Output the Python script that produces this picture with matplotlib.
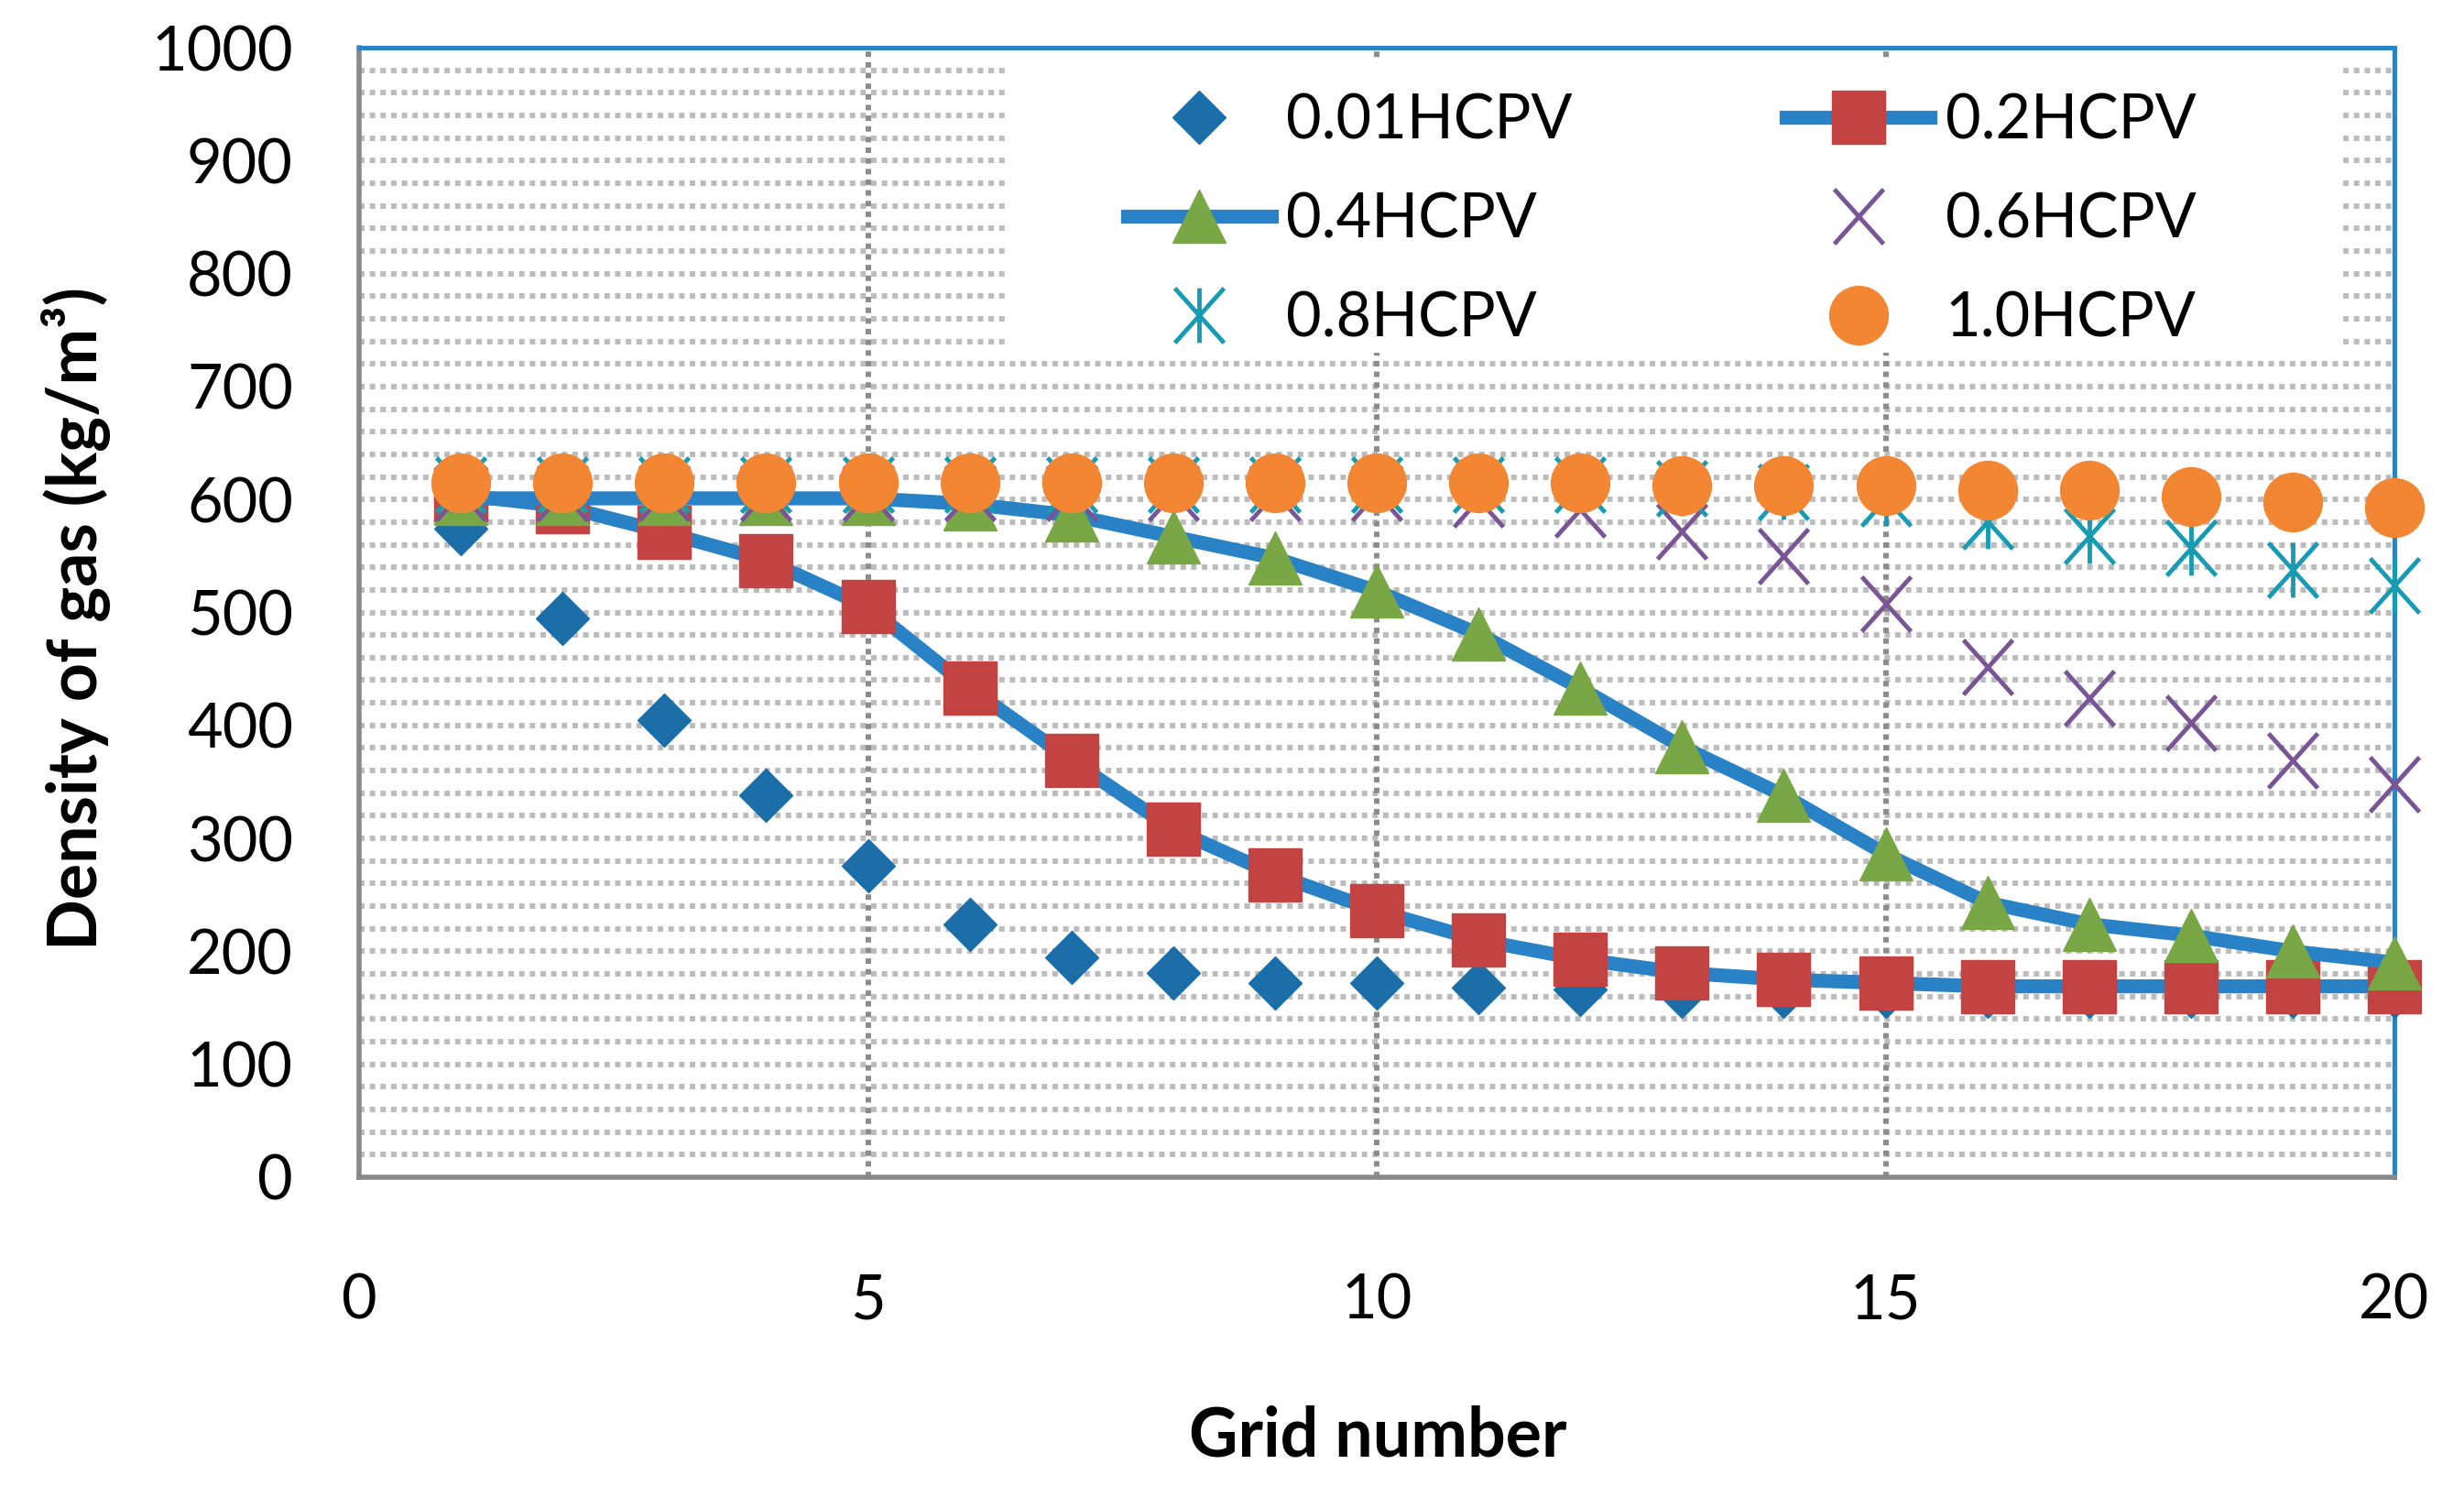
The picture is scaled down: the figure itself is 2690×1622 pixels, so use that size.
import numpy as np
import matplotlib.pyplot as plt
from matplotlib.path import Path
from matplotlib.patches import Rectangle
from matplotlib.ticker import MultipleLocator

plt.rcParams['font.family'] = ['Lato', 'DejaVu Sans']

# data
grid_no = np.arange(1, 21)

hcpv_001 = [574, 495, 405, 338, 276, 224, 195, 181, 172, 172,
            168, 166, 165, 165, 165, 165, 165, 165, 165, 165]
hcpv_02 = [604, 594, 571, 546, 505, 433, 369, 308, 268, 236,
           210, 193, 181, 175, 172, 169, 169, 169, 169, 169]
hcpv_04 = [601, 601, 601, 601, 601, 596, 586, 567, 548, 519,
           481, 433, 381, 338, 286, 243, 224, 214, 200, 190]
hcpv_06 = [606, 606, 606, 606, 606, 606, 606, 606, 606, 606,
           600, 591, 572, 550, 508, 452, 424, 402, 369, 348]
hcpv_08 = [613, 613, 613, 613, 613, 613, 613, 613, 613, 613,
           613, 613, 610, 607, 601, 581, 568, 557, 538, 524]
hcpv_10 = [615, 615, 615, 615, 615, 615, 615, 615, 615, 615,
           615, 615, 612, 612, 612, 608, 608, 603, 598, 593]

labels = ['0.01HCPV', '0.2HCPV', '0.4HCPV', '0.6HCPV', '0.8HCPV', '1.0HCPV']

line_blue = '#2882c5'

# excel style x and asterisk markers
x_mark = Path([(-0.45, -0.5), (0.45, 0.5), (-0.45, 0.5), (0.45, -0.5)],
              [Path.MOVETO, Path.LINETO, Path.MOVETO, Path.LINETO])
star_mark = Path([(-0.45, -0.5), (0.45, 0.5), (-0.45, 0.5), (0.45, -0.5),
                  (0, -0.5), (0, 0.5)],
                 [Path.MOVETO, Path.LINETO, Path.MOVETO, Path.LINETO,
                  Path.MOVETO, Path.LINETO])

fig = plt.figure(figsize=(26.9, 16.22), dpi=100)
ax = fig.add_axes([392 / 2690, 1 - 1285 / 1622, 2222 / 2690, 1233 / 1622])

h1, = ax.plot(grid_no, hcpv_001, ls='none', marker='D', ms=30,
              color='#1b6ea8', zorder=3, clip_on=False)
h2, = ax.plot(grid_no, hcpv_02, color=line_blue, lw=11, marker='s', ms=42,
              mfc='#c24341', mec='#c24341', zorder=4, clip_on=False)
h3, = ax.plot(grid_no, hcpv_04, color=line_blue, lw=11, marker='^', ms=42,
              mfc='#79a746', mec='#79a746', zorder=5, clip_on=False)
h4, = ax.plot(grid_no, hcpv_06, ls='none', marker=x_mark, ms=43, mew=3.5,
              color='#7a5595', zorder=6, clip_on=False)
h5, = ax.plot(grid_no, hcpv_08, ls='none', marker=star_mark, ms=43, mew=3.5,
              color='#179bb2', zorder=7, clip_on=False)
h6, = ax.plot(grid_no, hcpv_10, ls='none', marker='o', ms=46,
              color='#f28633', zorder=8, clip_on=False)

ax.set_xlim(0, 20)
ax.set_ylim(0, 1000)
ax.xaxis.set_major_locator(MultipleLocator(5))
ax.yaxis.set_major_locator(MultipleLocator(100))

ax.grid(False)
for v in np.arange(20, 1000, 20):
    ax.axhline(v, color='#bcbcbc', lw=4.3, ls=(0, (1, 0.95)), zorder=1)
for v in [5, 10, 15]:
    ax.axvline(v, color='#8c8c8c', lw=4.3, ls=(0, (1, 0.95)), zorder=1.2)

ax.tick_params(axis='both', which='both', length=0, labelsize=48)
ax.tick_params(axis='x', pad=75)
ax.tick_params(axis='y', pad=52)

ax.spines['left'].set_color('#898989')
ax.spines['bottom'].set_color('#898989')
ax.spines['left'].set_linewidth(4)
ax.spines['bottom'].set_linewidth(4)
ax.spines['top'].set_color('#2a84c6')
ax.spines['right'].set_color('#2a84c6')
ax.spines['top'].set_linewidth(3.6)
ax.spines['right'].set_linewidth(3.6)

# white area behind the legend
ax.add_patch(Rectangle((0.318, 0.73), 0.6555, 0.257, transform=ax.transAxes,
                       facecolor='white', edgecolor='none', zorder=2))

handles = [h1, h3, h5, h2, h4, h6]
leg_labels = [labels[0], labels[2], labels[4], labels[1], labels[3], labels[5]]
ax.legend(handles, leg_labels, ncol=2, loc='upper left',
          bbox_to_anchor=(0.3776, 0.960), frameon=False, fontsize=48,
          handlelength=2.35, handletextpad=0.25, columnspacing=3.5,
          labelspacing=0.69, borderpad=0, borderaxespad=0)

fig.text(83 / 2690, 1 - 675 / 1622, 'Density of gas (kg/m³)', rotation=90,
         ha='center', va='center', fontsize=53, fontweight='bold')
fig.text(1504 / 2690, 1 - 1568 / 1622, 'Grid number', ha='center',
         va='center', fontsize=53, fontweight='bold')

fig.savefig('out.png', dpi=100, facecolor='white')
